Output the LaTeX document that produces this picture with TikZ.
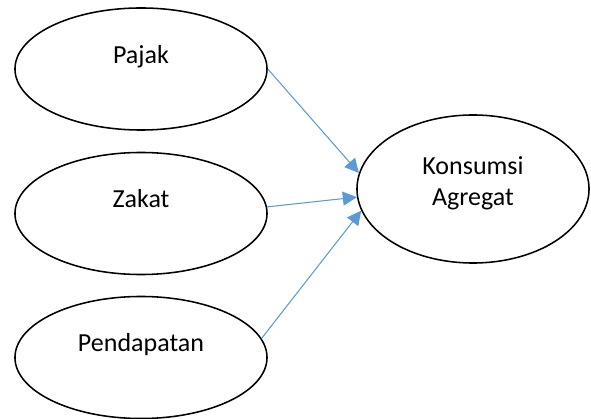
\documentclass[tikz,border=0pt]{standalone}
\usepackage{fontspec}
\setmainfont{Carlito}
\usepackage{tikz}
\usetikzlibrary{
    arrows.meta,
    shapes.geometric
}
\definecolor{linkblue}{HTML}{5B9BD5}

\begin{document}
\begin{tikzpicture}[x=0.025cm,y=-0.025cm,
    oval/.style={draw,line width=1.1pt,ellipse,minimum width=6.3cm,minimum height=3.05cm,
        font=\fontsize{18.5}{22}\selectfont,text height=12.6pt,text depth=21pt},
    link/.style={draw=linkblue,line width=0.75pt,-{Triangle[length=10pt,width=10pt]}}]

\useasboundingbox (0,0) rectangle (591,419);

% Inputs
\node[oval] (pajak) at (141,69) {Pajak};
\node[oval] (zakat) at (141,213.5) {Zakat};
\node[oval] (pendapatan) at (141,357.5) {Pendapatan};

% Output
\node[oval,minimum width=5.8cm,minimum height=3.7cm,align=center,
    text height=34.6pt,text depth=11.7pt] (konsumsi) at (473,189) {Konsumsi\\Agregat};

% Arrows
\draw[link] (pajak.0) -- (konsumsi.172);
\draw[link] (zakat.3.5) -- (konsumsi.184);
\draw[link] (pendapatan.9.4) -- (konsumsi.191.7);

\end{tikzpicture}
\end{document}
